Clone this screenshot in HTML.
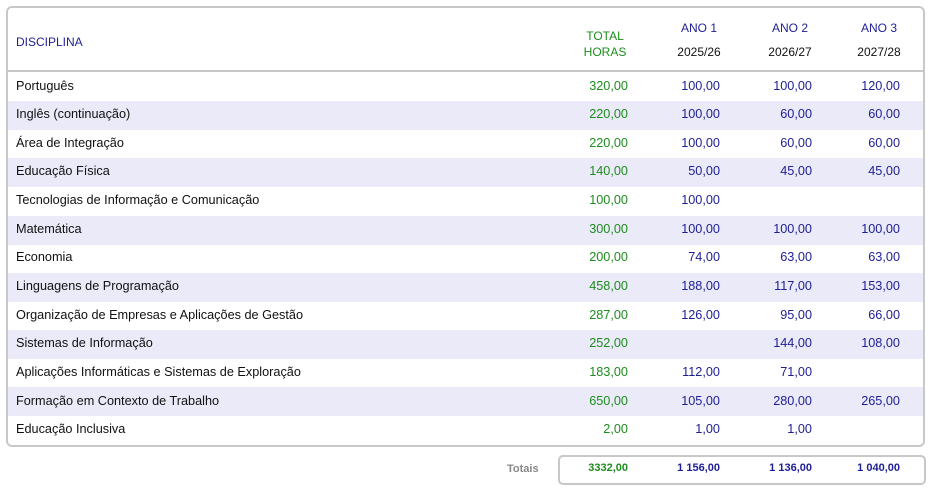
<!DOCTYPE html>
<html><head><meta charset="utf-8"><style>
body{margin:0;width:932px;height:491px;background:#fff;font-family:"Liberation Sans",sans-serif;position:relative;overflow:hidden}
.box{position:absolute;left:6px;top:6px;width:915px;height:437px;border:2px solid #c8c8c8;border-radius:6px}
.hl{position:absolute;left:8px;top:70px;width:915px;height:2px;background:#c8c8c8}
.t{position:absolute;white-space:nowrap;font-size:12.7px;line-height:16px}
.h{position:absolute;white-space:nowrap;font-size:12px;line-height:14px;text-align:center;width:80px}
.row{position:absolute;left:8px;width:915px;height:29px}
.alt{background:#eaeaf9}
.g{color:#1e8c1e}.b{color:#1e1e96}.k{color:#111}
.r{text-align:right;width:80px}
.tot{position:absolute;left:558px;top:455px;width:364px;height:26px;border:2px solid #c8c8c8;border-radius:5px}
.tb{position:absolute;font-size:11px;font-weight:bold;text-align:right;width:90px;line-height:14px}
</style></head><body>
<div class="row alt" style="top:101px"></div>
<div class="row alt" style="top:158px"></div>
<div class="row alt" style="top:216px"></div>
<div class="row alt" style="top:273px"></div>
<div class="row alt" style="top:330px"></div>
<div class="row alt" style="top:387px"></div>
<div class="box"></div>
<div class="hl"></div>
<div class="h b" style="left:16px;top:35px;text-align:left">DISCIPLINA</div>
<div class="h g" style="left:565px;top:29px">TOTAL</div>
<div class="h g" style="left:565px;top:45px">HORAS</div>
<div class="h b" style="left:659px;top:21px">ANO 1</div>
<div class="h k" style="left:659px;top:45px">2025/26</div>
<div class="h b" style="left:750px;top:21px">ANO 2</div>
<div class="h k" style="left:750px;top:45px">2026/27</div>
<div class="h b" style="left:839px;top:21px">ANO 3</div>
<div class="h k" style="left:839px;top:45px">2027/28</div>
<div id="rows"></div>
<div class="tot"></div>
<div class="t" style="left:507px;top:461px;font-size:11px;font-weight:bold;color:#888">Totais</div>
<div class="tb g" style="left:538px;top:461px">3332,00</div>
<div class="tb b" style="left:630px;top:461px">1 156,00</div>
<div class="tb b" style="left:722px;top:461px">1 136,00</div>
<div class="tb b" style="left:810px;top:461px">1 040,00</div>
<script>
var d=[["Português","320,00","100,00","100,00","120,00"],["Inglês (continuação)","220,00","100,00","60,00","60,00"],["Área de Integração","220,00","100,00","60,00","60,00"],["Educação Física","140,00","50,00","45,00","45,00"],["Tecnologias de Informação e Comunicação","100,00","100,00","",""],["Matemática","300,00","100,00","100,00","100,00"],["Economia","200,00","74,00","63,00","63,00"],["Linguagens de Programação","458,00","188,00","117,00","153,00"],["Organização de Empresas e Aplicações de Gestão","287,00","126,00","95,00","66,00"],["Sistemas de Informação","252,00","","144,00","108,00"],["Aplicações Informáticas e Sistemas de Exploração","183,00","112,00","71,00",""],["Formação em Contexto de Trabalho","650,00","105,00","280,00","265,00"],["Educação Inclusiva","2,00","1,00","1,00",""]];
var h="",R=[628,720,812,900];
d.forEach(function(r,i){var y=Math.round(77.5+i*28.65);
h+='<div class="t k" style="left:16px;top:'+y+'px">'+r[0]+'</div>';
for(var j=1;j<5;j++)h+='<div class="t r '+(j==1?'g':'b')+'" style="left:'+(R[j-1]-80)+'px;top:'+y+'px">'+r[j]+'</div>';});
document.getElementById("rows").innerHTML=h;
</script>
</body></html>
